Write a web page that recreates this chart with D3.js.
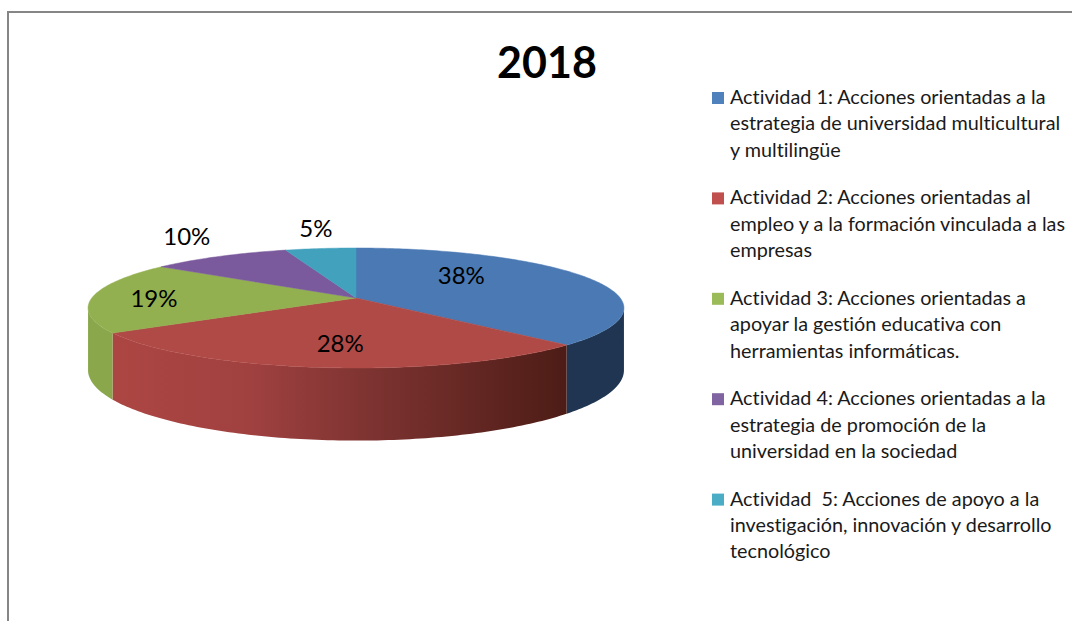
<!DOCTYPE html>
<html>
<head>
<meta charset="utf-8">
<script src="https://cdn.jsdelivr.net/npm/d3@7"></script>
<style>
  html, body { margin: 0; padding: 0; background: #fff; }
  svg { display: block; font-family: Lato, "Open Sans", sans-serif; font-variant-ligatures: none; }
</style>
</head>
<body>
<svg width="1072" height="621"></svg>
<script>
const title = "2018";
const values = [37.6, 28.2, 19.2, 10, 5];
const legendLines = [
  ["Actividad 1: Acciones orientadas a la", "estrategia de universidad multicultural", "y multilingüe"],
  ["Actividad 2: Acciones orientadas al", "empleo y a la formación vinculada a las", "empresas"],
  ["Actividad 3: Acciones orientadas a", "apoyar la gestión educativa con", "herramientas informáticas."],
  ["Actividad 4: Acciones orientadas a la", "estrategia de promoción de la", "universidad en la sociedad"],
  ["Actividad  5: Acciones de apoyo a la", "investigación, innovación y desarrollo", "tecnológico"]
];
const legendColors = ["#4f81bd", "#c0504d", "#9bbb59", "#8064a2", "#4bacc6"];
const topColors = ["#4a79b3", "#b04a47", "#93b050", "#7a5a9c", "#42a1bd"];
const sideColors = ["#1f3551", "url(#redSide)", "#8aa74c", "#5a4070", "#2f7a8c"];

// label nudges from the slice middle, the way they sit in the picture
const labelNudge = [[-36, -10], [3, 7], [-44, 1], [-83, -35], [-17.5, -38]];

const svg = d3.select("svg");
const width = +svg.attr("width");
const height = +svg.attr("height");
const pct = d3.format(".0f");

// chart frame, only top and left show
svg.append("path")
  .attr("d", `M8,${height}V12H${width}`)
  .attr("fill", "none")
  .attr("stroke", "#868686")
  .attr("stroke-width", 2);

svg.append("text")
  .attr("x", 547).attr("y", 78)
  .attr("text-anchor", "middle")
  .attr("font-size", 43)
  .attr("font-weight", 700)
  .attr("fill", "#000")
  .text(title);

const defs = svg.append("defs");
const grad = defs.append("linearGradient")
  .attr("id", "redSide")
  .attr("gradientUnits", "userSpaceOnUse")
  .attr("x1", 113).attr("x2", 567).attr("y1", 0).attr("y2", 0);
grad.append("stop").attr("offset", "0%").attr("stop-color", "#ac4643");
grad.append("stop").attr("offset", "30%").attr("stop-color", "#a04140");
grad.append("stop").attr("offset", "55%").attr("stop-color", "#7f3432");
grad.append("stop").attr("offset", "100%").attr("stop-color", "#4d1c16");

// tilted disc with perspective: front edge comes out larger than the back
const cx = 356, cy = 298, rxBase = 264.2, ryBase = 58.33, persp = 1 / 6;
function project(a, r = 1) {
  const u = Math.sin(a) * r, v = -Math.cos(a) * r;
  const w = 1 - persp * v;
  return [cx + rxBase * u / w, cy + ryBase * v / w];
}
function depth(a) {
  const w = 1 + persp * Math.cos(a);
  return 60.5 / w;
}

const rad = Math.PI / 180;
const frontStart = Math.acos(-persp);
const frontEnd = 2 * Math.PI - frontStart;

const arcs = d3.pie().sort(null)(values);
const line = d3.line();

function sample(a0, a1) {
  const n = Math.max(2, Math.ceil(Math.abs(a1 - a0) / rad));
  return d3.range(n + 1).map(i => a0 + (a1 - a0) * i / n);
}

const pie = svg.append("g");

// side walls first
arcs.forEach((d, i) => {
  const a0 = Math.max(d.startAngle, frontStart);
  const a1 = Math.min(d.endAngle, frontEnd);
  if (a1 <= a0) return;
  const angles = sample(a0, a1);
  const topEdge = angles.map(a => project(a));
  const bottomEdge = angles.slice().reverse().map(a => {
    const p = project(a);
    return [p[0], p[1] + depth(a)];
  });
  pie.append("path")
    .attr("d", line(topEdge.concat(bottomEdge)) + "Z")
    .attr("fill", sideColors[i]);
});

// top faces
arcs.forEach((d, i) => {
  const rim = sample(d.startAngle, d.endAngle).map(a => project(a));
  pie.append("path")
    .attr("d", line([[cx, cy]].concat(rim)) + "Z")
    .attr("fill", topColors[i])
    .attr("stroke", topColors[i])
    .attr("stroke-width", 0.5);
});

svg.append("g").selectAll("text")
  .data(arcs)
  .join("text")
  .attr("x", (d, i) => project((d.startAngle + d.endAngle) / 2, 0.6)[0] + labelNudge[i][0])
  .attr("y", (d, i) => project((d.startAngle + d.endAngle) / 2, 0.6)[1] + labelNudge[i][1])
  .attr("dy", "0.35em")
  .attr("text-anchor", "middle")
  .attr("font-size", 24)
  .attr("fill", "#000")
  .text(d => pct(d.value) + "%");

// legend
const legendY = d3.scaleBand()
  .domain(d3.range(legendLines.length))
  .range([79, 581]);
const lineH = 26.4;

const rows = svg.append("g").selectAll("g")
  .data(legendLines)
  .join("g")
  .attr("transform", (d, i) => `translate(0,${legendY(i)})`);

rows.append("rect")
  .attr("x", 712).attr("y", 13)
  .attr("width", 12).attr("height", 12)
  .attr("fill", (d, i) => legendColors[i]);

rows.selectAll("text")
  .data(d => d)
  .join("text")
  .attr("x", 730)
  .attr("y", (d, i) => 25 + i * lineH)
  .attr("font-size", 19.8)
  .attr("fill", "#1a1a1a")
  .style("white-space", "pre")
  .text(d => d);
</script>
</body>
</html>
